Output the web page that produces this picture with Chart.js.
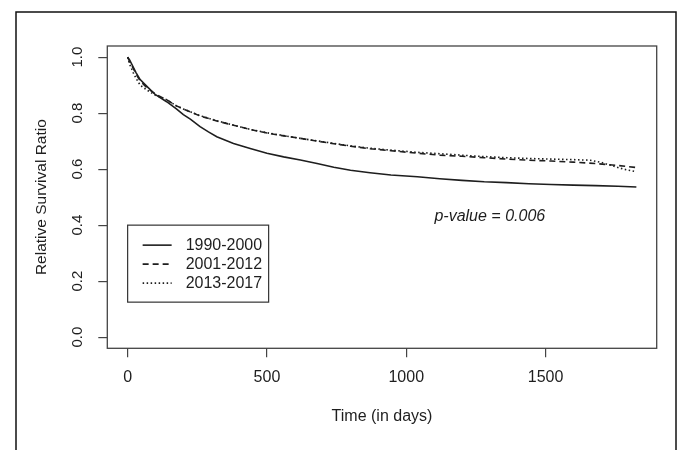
<!DOCTYPE html>
<html>
<head>
<meta charset="utf-8">
<script src="https://cdn.jsdelivr.net/npm/chart.js@4.4.1/dist/chart.umd.min.js"></script>
<style>
    html, body { margin: 0; padding: 0; background: #fff; }
    #wrap { width: 681px; height: 450px; }
</style>
</head>
<body>
<div id="wrap"><canvas id="survChart" width="681" height="450"></canvas></div>
<script>
// Relative survival by diagnosis period
const seriesLabels = ['1990-2000', '2001-2012', '2013-2017'];

const days1990 = [0, 7, 20, 30, 45, 70, 100, 140, 175, 200, 225, 260, 290, 320, 380, 440, 500, 560, 620, 680, 740, 800, 870, 945, 1040, 1120, 1200, 1280, 1360, 1440, 1520, 1600, 1680, 1760, 1826];
const surv1990 = [1.0, 0.990, 0.965, 0.945, 0.920, 0.895, 0.866, 0.841, 0.815, 0.795, 0.779, 0.752, 0.733, 0.716, 0.692, 0.674, 0.657, 0.644, 0.633, 0.620, 0.607, 0.596, 0.587, 0.579, 0.573, 0.566, 0.560, 0.555, 0.552, 0.548, 0.545, 0.543, 0.541, 0.539, 0.536];

const days2001 = [0, 7, 20, 30, 45, 70, 100, 140, 175, 200, 260, 320, 380, 440, 500, 560, 620, 680, 740, 800, 870, 945, 1040, 1120, 1200, 1280, 1360, 1440, 1520, 1600, 1680, 1760, 1826];
const surv2001 = [1.0, 0.985, 0.960, 0.940, 0.915, 0.890, 0.868, 0.848, 0.826, 0.815, 0.790, 0.772, 0.757, 0.742, 0.729, 0.719, 0.710, 0.700, 0.691, 0.682, 0.673, 0.666, 0.657, 0.650, 0.646, 0.641, 0.636, 0.632, 0.629, 0.625, 0.620, 0.613, 0.606];

const days2013 = [0, 7, 20, 30, 45, 70, 100, 140, 175, 200, 260, 320, 380, 440, 500, 560, 620, 680, 740, 800, 870, 945, 1040, 1120, 1200, 1280, 1360, 1440, 1520, 1600, 1660, 1700, 1740, 1780, 1826];
const surv2013 = [1.0, 0.975, 0.945, 0.925, 0.900, 0.882, 0.864, 0.848, 0.826, 0.815, 0.791, 0.773, 0.757, 0.742, 0.730, 0.720, 0.710, 0.701, 0.692, 0.683, 0.675, 0.668, 0.660, 0.655, 0.650, 0.645, 0.641, 0.638, 0.636, 0.634, 0.632, 0.624, 0.612, 0.600, 0.591];

const xTicks = [0, 500, 1000, 1500];
const xTickLabels = ['0', '500', '1000', '1500'];
const yTicks = [0, 0.2, 0.4, 0.6, 0.8, 1.0];
const yTickLabels = ['0.0', '0.2', '0.4', '0.6', '0.8', '1.0'];

const pValueText = 'p-value = 0.006';

const FONT = 'Liberation Sans, Arial, Helvetica, sans-serif';
const INK = '#1e1e1e';

const toPoints = (xs, ys) => xs.map((x, i) => ({ x: x, y: ys[i] }));

// Frame, box round the plot, legend and p-value note
const decorations = {
    id: 'decorations',
    afterDraw(chart) {
        const { ctx, chartArea: a, scales } = chart;
        ctx.save();

        // outer figure frame
        ctx.strokeStyle = '#111';
        ctx.lineWidth = 1.5;
        ctx.strokeRect(16, 12, 660, 470);

        // plot box
        ctx.strokeStyle = '#444';
        ctx.lineWidth = 1.3;
        ctx.strokeRect(a.left, a.top, a.right - a.left, a.bottom - a.top);

        // legend anchored at (0, 0.4) like R's legend()
        const lx = scales.x.getPixelForValue(0);
        const ly = scales.y.getPixelForValue(0.4);
        ctx.strokeStyle = '#333';
        ctx.lineWidth = 1.2;
        ctx.strokeRect(lx, ly, 141, 77);
        ctx.font = '16px ' + FONT;
        ctx.fillStyle = INK;
        ctx.textBaseline = 'middle';
        ctx.textAlign = 'left';
        chart.data.datasets.forEach((ds, i) => {
            const rowY = ly + 20 + i * 19;
            ctx.beginPath();
            ctx.setLineDash(ds.borderDash || []);
            ctx.strokeStyle = ds.borderColor;
            ctx.lineWidth = ds.borderWidth;
            ctx.moveTo(lx + 15, rowY);
            ctx.lineTo(lx + 44, rowY);
            ctx.stroke();
            ctx.setLineDash([]);
            ctx.fillText(ds.label, lx + 58, rowY);
        });

        // p-value note, placed in data coordinates
        ctx.font = 'italic 16px ' + FONT;
        ctx.textAlign = 'center';
        ctx.fillText(pValueText, scales.x.getPixelForValue(1300), scales.y.getPixelForValue(0.432));

        ctx.restore();
    }
};

new Chart(document.getElementById('survChart'), {
    type: 'line',
    data: {
        datasets: [
            {
                label: seriesLabels[0],
                data: toPoints(days1990, surv1990),
                borderColor: INK,
                borderWidth: 1.6
            },
            {
                label: seriesLabels[1],
                data: toPoints(days2001, surv2001),
                borderColor: INK,
                borderWidth: 1.6,
                borderDash: [6, 4]
            },
            {
                label: seriesLabels[2],
                data: toPoints(days2013, surv2013),
                borderColor: INK,
                borderWidth: 1.6,
                borderDash: [1.5, 2.5]
            }
        ]
    },
    options: {
        responsive: false,
        animation: false,
        devicePixelRatio: 1,
        layout: { padding: { left: 0, top: 46, right: 24.3, bottom: 0 } },
        elements: {
            point: { radius: 0 },
            line: { tension: 0, fill: false }
        },
        plugins: {
            legend: { display: false },
            tooltip: { enabled: false }
        },
        scales: {
            x: {
                type: 'linear',
                min: -73,
                max: 1899,
                afterBuildTicks: (scale) => { scale.ticks = xTicks.map(v => ({ value: v })); },
                afterFit: (scale) => { scale.height = 101.7; },
                border: { display: false },
                grid: { drawOnChartArea: false, drawTicks: true, tickLength: 9, color: '#444', lineWidth: 1.2 },
                ticks: {
                    autoSkip: false,
                    maxRotation: 0,
                    padding: 11,
                    color: INK,
                    font: { family: FONT, size: 16 },
                    callback: (v, i) => xTickLabels[i]
                },
                title: {
                    display: true,
                    text: 'Time (in days)',
                    color: INK,
                    font: { family: FONT, size: 16 },
                    padding: { top: 0, bottom: 24 }
                }
            },
            y: {
                min: -0.04,
                max: 1.04,
                afterBuildTicks: (scale) => { scale.ticks = yTicks.map(v => ({ value: v })); },
                afterFit: (scale) => { scale.width = 107.3; },
                border: { display: false },
                grid: { drawOnChartArea: false, drawTicks: true, tickLength: 9, color: '#444', lineWidth: 1.2 },
                ticks: {
                    autoSkip: false,
                    minRotation: 90,
                    maxRotation: 90,
                    crossAlign: 'center',
                    padding: 9.6,
                    color: INK,
                    font: { family: FONT, size: 15 },
                    callback: (v, i) => yTickLabels[i]
                },
                title: {
                    display: true,
                    text: 'Relative Survival Ratio',
                    color: INK,
                    font: { family: FONT, size: 15.5 },
                    padding: { top: 32.3, bottom: 0 }
                }
            }
        }
    },
    plugins: [decorations]
});
</script>
</body>
</html>
